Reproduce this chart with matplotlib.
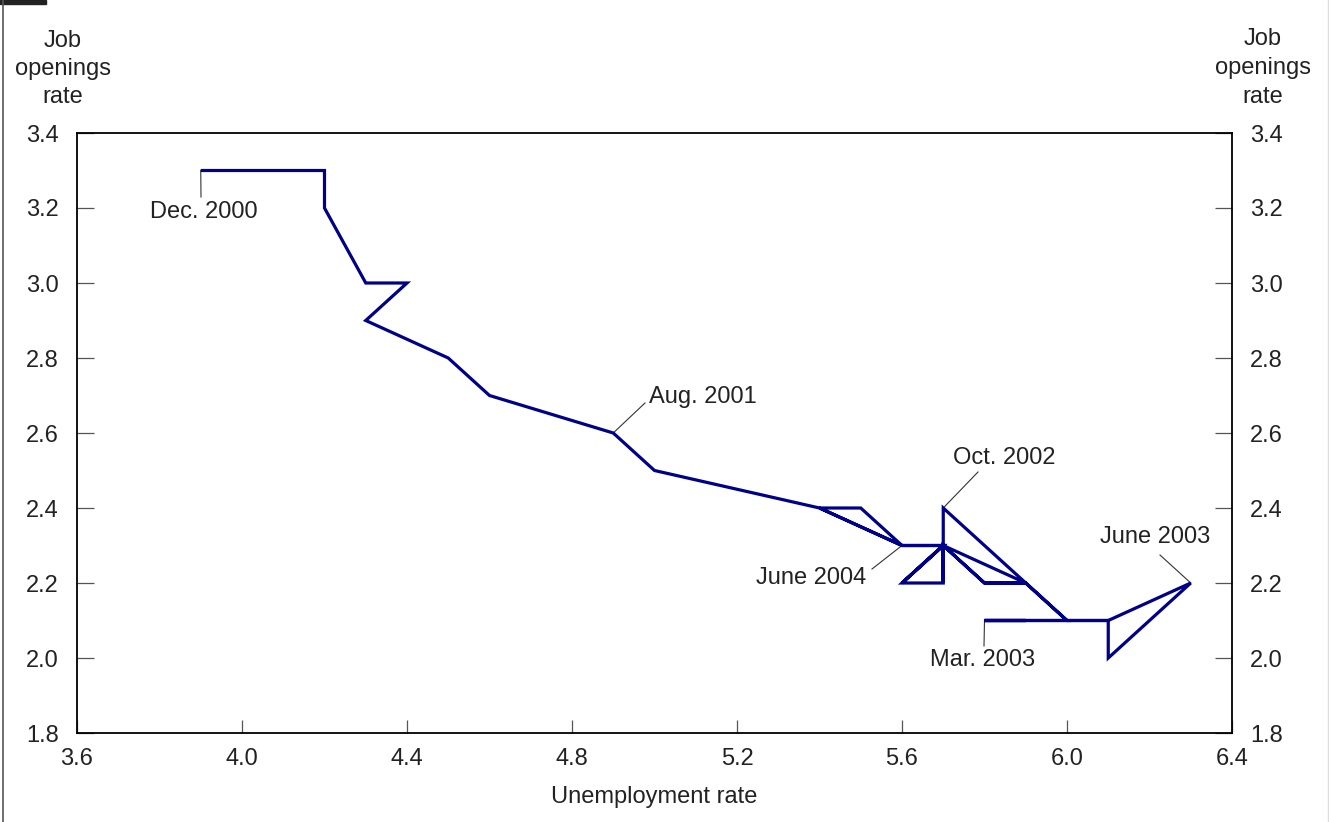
import matplotlib
matplotlib.use("Agg")
import matplotlib.pyplot as plt
from matplotlib.lines import Line2D
from matplotlib.patches import Rectangle

plt.rcParams['font.family'] = ['Liberation Sans', 'DejaVu Sans']

# Monthly path, Dec. 2000 - June 2004
months = ["Dec. 2000", "Jan. 2001", "Feb. 2001", "Mar. 2001", "Apr. 2001", "May 2001",
          "June 2001", "July 2001", "Aug. 2001", "Sep. 2001", "Oct. 2001", "Nov. 2001",
          "Dec. 2001", "Jan. 2002", "Feb. 2002", "Mar. 2002", "Apr. 2002", "May 2002",
          "June 2002", "July 2002", "Aug. 2002", "Sep. 2002", "Oct. 2002", "Nov. 2002",
          "Dec. 2002", "Jan. 2003", "Feb. 2003", "Mar. 2003", "Apr. 2003", "May 2003",
          "June 2003", "July 2003", "Aug. 2003", "Sep. 2003", "Oct. 2003", "Nov. 2003",
          "Dec. 2003", "Jan. 2004", "Feb. 2004", "Mar. 2004", "Apr. 2004", "May 2004",
          "June 2004"]
unemployment = [3.9, 4.2, 4.2, 4.3, 4.4, 4.3, 4.5, 4.6, 4.9, 5.0, 5.4, 5.6,
                5.7, 5.6, 5.7, 5.7, 5.9, 5.8, 5.7, 5.7, 5.7, 5.7, 5.7, 5.9,
                6.0, 5.8, 5.9, 5.8, 6.1, 6.1, 6.3, 6.1, 6.1, 6.0, 5.9, 5.8,
                5.7, 5.6, 5.7, 5.6, 5.4, 5.5, 5.6]
openings = [3.3, 3.3, 3.2, 3.0, 3.0, 2.9, 2.8, 2.7, 2.6, 2.5, 2.4, 2.3,
            2.3, 2.2, 2.2, 2.3, 2.2, 2.2, 2.3, 2.2, 2.3, 2.3, 2.4, 2.2,
            2.1, 2.1, 2.1, 2.1, 2.1, 2.0, 2.2, 2.1, 2.1, 2.1, 2.2, 2.2,
            2.3, 2.2, 2.3, 2.3, 2.4, 2.4, 2.3]

x_ticks = [3.6, 4.0, 4.4, 4.8, 5.2, 5.6, 6.0, 6.4]
x_tick_labels = ["3.6", "4.0", "4.4", "4.8", "5.2", "5.6", "6.0", "6.4"]
y_ticks = [1.8, 2.0, 2.2, 2.4, 2.6, 2.8, 3.0, 3.2, 3.4]
y_tick_labels = ["1.8", "2.0", "2.2", "2.4", "2.6", "2.8", "3.0", "3.2", "3.4"]

labeled = ["Dec. 2000", "Aug. 2001", "Oct. 2002", "June 2004", "June 2003", "Mar. 2003"]

W, H = 1329, 822
AX_L, AX_R, AX_T, AX_B = 77, 1232, 133, 733
FS = 17
TXT = '#222222'

fig = plt.figure(figsize=(W / 100, H / 100), dpi=100)
ax = fig.add_axes([AX_L / W, 1 - AX_B / H, (AX_R - AX_L) / W, (AX_B - AX_T) / H])

ax.plot(unemployment, openings, color='#000088', lw=2.3, solid_joinstyle='miter',
        solid_capstyle='butt', zorder=3)

ax.set_xlim(3.6, 6.4)
ax.set_ylim(1.8, 3.4)
ax.set_xticks(x_ticks)
ax.set_xticklabels(x_tick_labels)
ax.set_yticks(y_ticks)
ax.set_yticklabels(y_tick_labels)
ax.tick_params(axis='x', direction='in', length=9.5, width=0.9, color='#555555',
               labelsize=FS, pad=11, labelcolor=TXT)
ax.tick_params(axis='y', direction='in', length=12.5, width=0.9, color='#555555',
               labelsize=FS, pad=13, labelcolor=TXT, right=True, labelright=True)
for s in ax.spines.values():
    s.set_linewidth(1.3)
    s.set_color('black')

ax.set_xlabel("Unemployment rate", fontsize=FS, color=TXT, labelpad=11)

fig.text(63 / W, 1 - 69 / H, "Job\nopenings\nrate", ha='center', va='center',
         fontsize=FS, color=TXT, linespacing=1.37)
fig.text(1263 / W, 1 - 68 / H, "Job\nopenings\nrate", ha='center', va='center',
         fontsize=FS, color=TXT, linespacing=1.41)


# annotations (leader end and label centre given in page pixels)
def to_data(px, py):
    return (3.6 + (px - AX_L) / (AX_R - AX_L) * 2.8,
            1.8 + (AX_B - py) / (AX_B - AX_T) * 1.6)


ann = {
    "Dec. 2000": ((201, 197), (204, 212)),
    "Aug. 2001": ((645, 403), (703, 397)),
    "Oct. 2002": ((978, 472), (1004, 458)),
    "June 2004": ((872, 569), (811, 578)),
    "June 2003": ((1160, 555), (1155, 537)),
    "Mar. 2003": ((984, 646), (983, 660)),
}
for name in labeled:
    i = months.index(name)
    px, py = unemployment[i], openings[i]
    ex, ey = to_data(*ann[name][0])
    tx, ty = to_data(*ann[name][1])
    ax.plot([px, ex], [py, ey], color='#333333', lw=0.8, zorder=2)
    ax.text(tx, ty, name, ha='center', va='center', fontsize=FS, color=TXT)

# page decorations
fig.add_artist(Line2D([3 / W, 3 / W], [0, 1], color='#555555', lw=1.2))
fig.add_artist(Line2D([1328 / W, 1328 / W], [0, 1], color='#dddddd', lw=1.0))
fig.add_artist(Rectangle((0, 1 - 4 / H), 46 / W, 4 / H, color='#222222'))

fig.savefig("out.png", dpi=100)
